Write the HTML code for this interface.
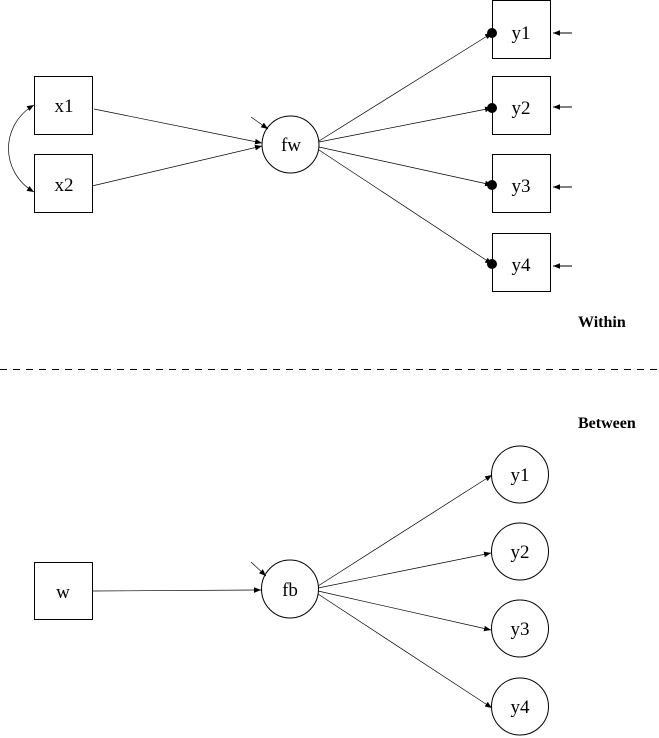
<!DOCTYPE html>
<html><head><meta charset="utf-8"><style>
html,body{margin:0;padding:0;background:#fff;}
svg{display:block;}
text{font-family:"Liberation Serif",serif;font-size:19px;fill:#000;}
.b{font-weight:bold;font-size:16px;}
</style></head><body>
<svg width="659" height="738" viewBox="0 0 659 738" xmlns="http://www.w3.org/2000/svg">
<defs>
<marker id="a" viewBox="0 0 10 10" refX="10" refY="5" markerWidth="7" markerHeight="7" orient="auto-start-reverse" markerUnits="userSpaceOnUse">
<path d="M0,1 L10,5 L0,9 z" fill="#000"/></marker>
</defs>
<g fill="none" stroke="#000" stroke-width="1">
<rect x="34.5" y="76.5" width="58" height="58"/>
<rect x="34.5" y="154.5" width="58" height="58"/>
<circle cx="290.5" cy="144.5" r="28.5"/>
<rect x="492.5" y="0.5" width="58" height="58"/>
<rect x="492.5" y="76.5" width="58" height="58"/>
<rect x="492.5" y="154.5" width="58" height="58"/>
<rect x="492.5" y="233.5" width="58" height="58"/>
<path d="M34,105 C0,125 0,172 34,192" marker-start="url(#a)" marker-end="url(#a)" stroke-width="0.7"/>
<line x1="94" y1="109" x2="262" y2="143" marker-end="url(#a)" stroke-width="0.7"/>
<line x1="92" y1="186" x2="262" y2="146" marker-end="url(#a)" stroke-width="0.7"/>
<line x1="251" y1="117" x2="268" y2="129" marker-end="url(#a)" stroke-width="0.7"/>
<line x1="319" y1="141" x2="492" y2="33" marker-end="url(#a)" stroke-width="0.7"/>
<line x1="319" y1="142" x2="492" y2="108" marker-end="url(#a)" stroke-width="0.7"/>
<line x1="319" y1="147" x2="492" y2="185" marker-end="url(#a)" stroke-width="0.7"/>
<line x1="319" y1="150" x2="492" y2="264" marker-end="url(#a)" stroke-width="0.7"/>
<line x1="572" y1="33" x2="553" y2="33" marker-end="url(#a)"/>
<line x1="572" y1="107" x2="553" y2="107" marker-end="url(#a)"/>
<line x1="572" y1="187" x2="553" y2="187" marker-end="url(#a)"/>
<line x1="572" y1="266" x2="553" y2="266" marker-end="url(#a)"/>
<line x1="0" y1="369.5" x2="659" y2="369.5" stroke-dasharray="7,6"/>
<rect x="34.5" y="562.5" width="58" height="57"/>
<ellipse cx="290" cy="589" rx="28.5" ry="29"/>
<ellipse cx="520" cy="474.5" rx="28.5" ry="28.5"/>
<ellipse cx="520" cy="551.5" rx="28.5" ry="28.5"/>
<ellipse cx="520" cy="628.5" rx="28.5" ry="28.5"/>
<ellipse cx="520" cy="706.5" rx="28.5" ry="28.5"/>
<line x1="93" y1="591" x2="261" y2="590" marker-end="url(#a)" stroke-width="0.7"/>
<line x1="251" y1="562" x2="266" y2="576" marker-end="url(#a)" stroke-width="0.7"/>
<line x1="318" y1="586" x2="492" y2="475" marker-end="url(#a)" stroke-width="0.7"/>
<line x1="318" y1="588" x2="491" y2="553" marker-end="url(#a)" stroke-width="0.7"/>
<line x1="318" y1="591" x2="491" y2="630" marker-end="url(#a)" stroke-width="0.7"/>
<line x1="318" y1="594" x2="492" y2="708" marker-end="url(#a)" stroke-width="0.7"/>
</g>
<g fill="#000">
<circle cx="492" cy="33" r="5"/>
<circle cx="492" cy="108" r="5"/>
<circle cx="492" cy="185" r="5"/>
<circle cx="492" cy="264" r="5"/>
</g>
<g text-anchor="middle">
<text x="64" y="112">x1</text>
<text x="64" y="191">x2</text>
<text x="291" y="151">fw</text>
<text x="521" y="39">y1</text>
<text x="521" y="114">y2</text>
<text x="521" y="192">y3</text>
<text x="521" y="271">y4</text>
<text x="63" y="598">w</text>
<text x="290" y="596">fb</text>
<text x="520" y="481">y1</text>
<text x="520" y="558">y2</text>
<text x="520" y="635">y3</text>
<text x="520" y="713">y4</text>
</g>
<text class="b" x="578" y="327">Within</text>
<text class="b" x="578" y="428">Between</text>
</svg>
</body></html>
